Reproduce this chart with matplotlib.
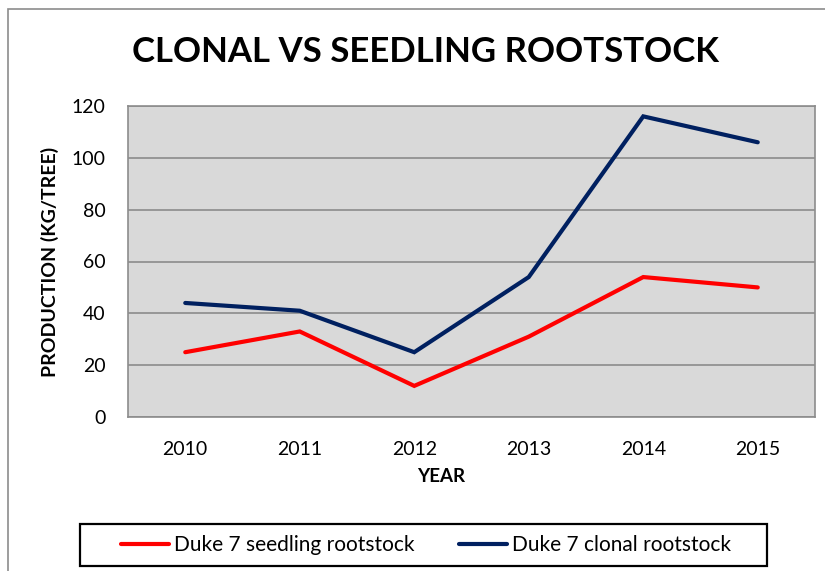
import numpy as np
import matplotlib
matplotlib.use('Agg')
import matplotlib.pyplot as plt
from matplotlib.patches import Rectangle

years = ['2010', '2011', '2012', '2013', '2014', '2015']
seedling = [25, 33, 12, 31, 54, 50]
clonal = [44, 41, 25, 54, 116, 106]

plt.rcParams['font.family'] = ['Lato', 'DejaVu Sans']

W, H = 825, 571
fig = plt.figure(figsize=(W / 100, H / 100), dpi=100)

# outer chart border (only left and top visible in the crop)
fig.patches.append(Rectangle((8 / W, -0.1), 1.2, 1 - 9 / H + 0.1, transform=fig.transFigure,
                             fill=False, edgecolor='#8c8c8c', linewidth=1.2))
# legend box
fig.patches.append(Rectangle((80 / W, 1 - 566 / H), 687 / W, 42 / H, transform=fig.transFigure,
                             fill=False, edgecolor='black', linewidth=1.6))

ax = fig.add_axes([128 / W, (H - 417) / H, 687 / W, 311 / H])
ax.set_facecolor('#d9d9d9')

x = np.arange(len(years))
ax.plot(x, seedling, color='#ff0000', linewidth=3, label='Duke 7 seedling rootstock',
        solid_capstyle='round', solid_joinstyle='miter')
ax.plot(x, clonal, color='#002060', linewidth=3, label='Duke 7 clonal rootstock',
        solid_capstyle='round', solid_joinstyle='miter')

ax.set_xlim(-0.5, len(years) - 0.5)
ax.set_ylim(0, 120)
ax.set_yticks(range(0, 121, 20))
ax.set_xticks(x)
ax.set_xticklabels(years)
ax.grid(axis='y', color='#8c8c8c', linewidth=1.2)
ax.set_axisbelow(True)
for s in ax.spines.values():
    s.set_color('#8c8c8c')
    s.set_linewidth(1.2)
ax.tick_params(length=0, labelsize=14, colors='black')
ax.tick_params(axis='y', pad=16)
ax.tick_params(axis='x', pad=17)

fig.text(425 / W, 1 - 52 / H, 'CLONAL VS SEEDLING ROOTSTOCK', ha='center', va='center',
         fontsize=25, fontweight='bold')
fig.text(50 / W, 1 - 262 / H, 'PRODUCTION (KG/TREE)', ha='center', va='center',
         rotation=90, fontsize=14, fontweight='bold')
fig.text(441 / W, 1 - 476 / H, 'YEAR', ha='center', va='center',
         fontsize=13.5, fontweight='bold')

leg = fig.legend(loc='center', bbox_to_anchor=(426 / W, 1 - 545 / H), ncol=2,
                 fontsize=15, frameon=False,
                 handlelength=2.3, handletextpad=0.25, columnspacing=2.1)

fig.savefig('out.png', dpi=100)
